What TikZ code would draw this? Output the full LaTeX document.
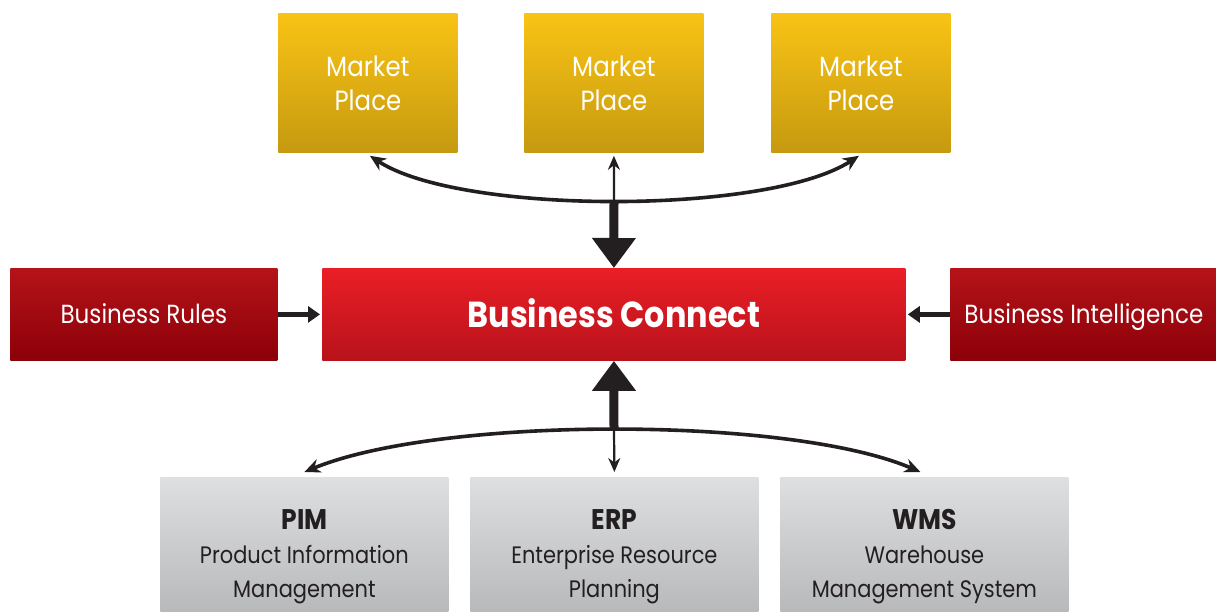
\documentclass[tikz,border=0pt]{standalone}
\usepackage{fontspec}
\setmainfont{Poppins}[FakeStretch=0.88]
\usetikzlibrary{arrows.meta}
\definecolor{mpTop}{HTML}{F9C315}
\definecolor{mpBot}{HTML}{C69A10}
\definecolor{bcTop}{HTML}{EA1E26}
\definecolor{bcBot}{HTML}{B8121B}
\definecolor{sdTop}{HTML}{B51319}
\definecolor{sdBot}{HTML}{8C0008}
\definecolor{gyTop}{HTML}{DEDFE1}
\definecolor{gyBot}{HTML}{B3B4B6}
\definecolor{txtDark}{HTML}{231F20}
\definecolor{arr}{HTML}{231F20}
\tikzset{
  box/.style={rectangle, inner sep=0pt, anchor=north west, align=center},
  mpbox/.style={box, top color=mpTop, bottom color=mpBot, text=white, font=\fontsize{13.9}{17}\selectfont,
     minimum width=89.5pt, minimum height=69.5pt},
  bcbox/.style={box, top color=bcTop, bottom color=bcBot, text=white, font=\fontsize{18.1}{20}\selectfont\bfseries,
     minimum width=291.5pt, minimum height=46pt, text height=14pt, text depth=0.5pt},
  sdbox/.style={box, top color=sdTop, bottom color=sdBot, text=white, font=\fontsize{13.1}{14}\selectfont,
     minimum width=133.5pt, minimum height=46pt, text height=10pt, text depth=1pt},
  gybox/.style={box, top color=gyTop, bottom color=gyBot, text=txtDark, font=\fontsize{11.9}{17}\selectfont,
     minimum width=144pt, minimum height=76pt, text depth=0pt},
  thin/.style={draw=arr, line width=1.8pt, {Stealth[length=8pt,width=7pt]}-{Stealth[length=8pt,width=7pt]}},
  thinone/.style={draw=arr, line width=1.1pt, -{Stealth[length=7pt,width=6pt]}},
  thick/.style={draw=arr, line width=4.5pt, -{Triangle[length=15pt,width=21pt]}},
  side/.style={draw=arr, line width=2.2pt, -{Triangle[length=6pt,width=8pt]}},
}
\begin{document}
\begin{tikzpicture}[x=0.5pt,y=-0.5pt]
\useasboundingbox (0,0) rectangle (1216,611);
\fill[white] (0,0) rectangle (1216,611);
% Market places
\node[mpbox] (mp1) at (278,13) {Market\\Place};
\node[mpbox] (mp2) at (524,13) {Market\\Place};
\node[mpbox] (mp3) at (771,13) {Market\\Place};
% middle row
\node[sdbox] (br) at (10,268) {Business Rules};
\node[bcbox] (bc) at (322,268) {Business Connect};
\node[sdbox] (bi) at (950,268) {Business Intelligence};
% bottom row
\node[gybox] (pim) at (160,477) {\textbf{\fontsize{14.2}{17}\selectfont PIM}\\Product Information\\Management};
\node[gybox] (erp) at (470,477) {\textbf{\fontsize{14.2}{17}\selectfont ERP}\\Enterprise Resource\\Planning};
\node[gybox] (wms) at (780,477) {\textbf{\fontsize{14.2}{17}\selectfont WMS}\\Warehouse\\Management System};
% junctions
\coordinate (topj) at (614,200);
\coordinate (botj) at (614,430);
% top connectors
\draw[thin] ([xshift=1pt,yshift=-1.5pt]mp1.south) .. controls (460,215) and (768,215) .. ([xshift=-1pt,yshift=-1.5pt]mp3.south);
\draw[thinone] (topj) -- ([yshift=-1.5pt]mp2.south);
\draw[thick] (topj) -- (bc.north);
% bottom connectors
\draw[thin] ([yshift=2.5pt]pim.north) .. controls (440,416) and (790,416) .. ([xshift=-2pt,yshift=2.5pt]wms.north);
\draw[thinone] (botj) -- ([yshift=2.5pt]erp.north);
\draw[thick] (botj) -- (bc.south);
% side arrows
\draw[side] (br.east) -- ([xshift=-1pt]bc.west);
\draw[side] (bi.west) -- ([xshift=1pt]bc.east);
\end{tikzpicture}
\end{document}
